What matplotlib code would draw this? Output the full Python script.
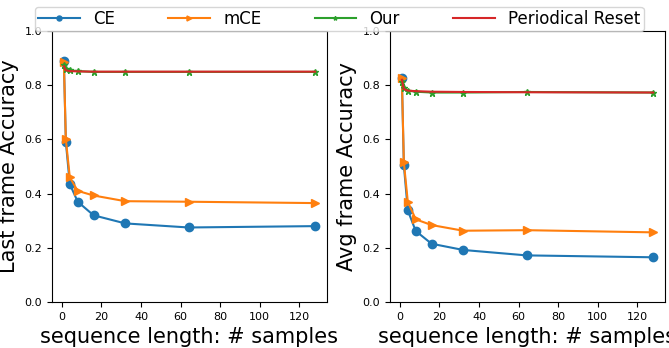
import matplotlib
matplotlib.use('Agg')
import matplotlib.pyplot as plt

seq_len = [1, 2, 4, 8, 16, 32, 64, 128]

last_ce = [0.89, 0.59, 0.435, 0.37, 0.32, 0.29, 0.275, 0.28]
last_mce = [0.885, 0.60, 0.46, 0.41, 0.393, 0.372, 0.37, 0.365]
last_our = [0.875, 0.86, 0.855, 0.852, 0.849, 0.849, 0.849, 0.849]
last_reset = [0.87, 0.855, 0.852, 0.851, 0.85, 0.85, 0.85, 0.85]

avg_ce = [0.825, 0.505, 0.338, 0.262, 0.215, 0.192, 0.172, 0.165]
avg_mce = [0.825, 0.515, 0.37, 0.305, 0.284, 0.263, 0.265, 0.257]
avg_our = [0.81, 0.79, 0.78, 0.776, 0.773, 0.773, 0.775, 0.773]
avg_reset = [0.82, 0.786, 0.78, 0.778, 0.776, 0.775, 0.774, 0.773]

fig = plt.figure(figsize=(6.69, 3.48), dpi=100)
ax1 = fig.add_axes([52/669, 1 - 302/348, 275/669, 271/348])
ax2 = fig.add_axes([390/669, 1 - 302/348, 275/669, 271/348])

for ax, ce, mce, our, reset, ylab in [
        (ax1, last_ce, last_mce, last_our, last_reset, 'Last frame Accuracy'),
        (ax2, avg_ce, avg_mce, avg_our, avg_reset, 'Avg frame Accuracy')]:
    ax.plot(seq_len, ce, marker='o', color='tab:blue', label='CE')
    ax.plot(seq_len, mce, marker='>', color='tab:orange', label='mCE')
    ax.plot(seq_len, our, marker='*', markersize=5, color='tab:green', label='Our')
    ax.plot(seq_len, reset, color='tab:red', label='Periodical Reset')
    ax.set_ylim(0, 1.0)
    ax.set_xlim(-5, 134)
    ax.set_xticks([0, 20, 40, 60, 80, 100, 120])
    ax.tick_params(labelsize=8)
    ax.set_ylabel(ylab, fontsize=15)
    ax.set_xlabel('sequence length: # samples', fontsize=15)

handles, labels = ax1.get_legend_handles_labels()
fig.legend(handles, labels, loc='upper center', ncol=4, fontsize=12,
           bbox_to_anchor=(0.507, 1.005), markerscale=0.6, handlelength=2.5,
           columnspacing=3.2, borderpad=0.2)

fig.savefig('out.png', dpi=100)
